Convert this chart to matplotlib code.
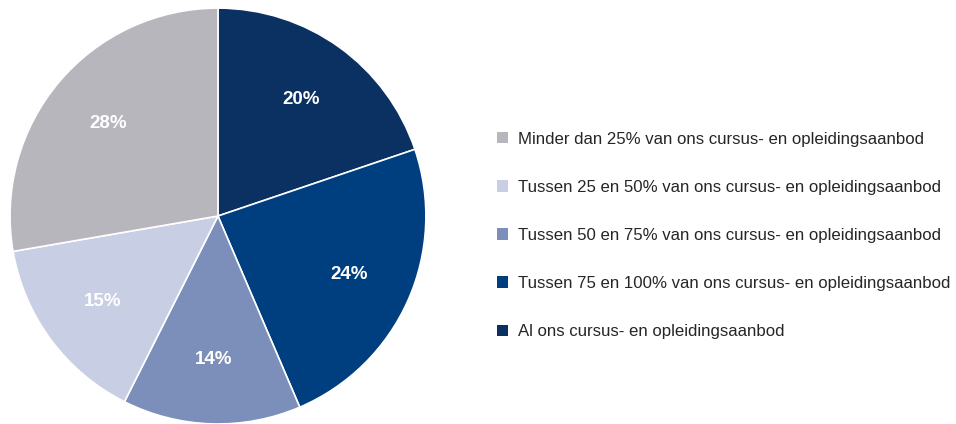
import matplotlib.pyplot as plt
from matplotlib.patches import Patch

plt.rcParams['font.family'] = ['Liberation Sans', 'DejaVu Sans']

# legend order (top to bottom)
categories = [
    "Minder dan 25% van ons cursus- en opleidingsaanbod",
    "Tussen 25 en 50% van ons cursus- en opleidingsaanbod",
    "Tussen 50 en 75% van ons cursus- en opleidingsaanbod",
    "Tussen 75 en 100% van ons cursus- en opleidingsaanbod",
    "Al ons cursus- en opleidingsaanbod",
]
values = [28, 15, 14, 24, 20]
colors = ["#b7b6bc", "#c8cee4", "#7b8fba", "#003f7f", "#0a3161"]

fig = plt.figure(figsize=(9.56, 4.24), dpi=100)
ax = fig.add_axes([0.0105, 0.0, 0.435, 0.981])

# pie runs clockwise from the top starting with the last category
pie_vals = values[::-1]
pie_cols = colors[::-1]
wedges, texts, autotexts = ax.pie(
    pie_vals, colors=pie_cols, startangle=90, counterclock=False,
    autopct=lambda p: "%d%%" % round(p * sum(values) / 100),
    pctdistance=0.69,
    wedgeprops=dict(edgecolor="white", linewidth=1.2),
    textprops=dict(color="white", fontsize=13.5, fontweight="bold"),
)
ax.set_xlim(-1.0, 1.0)
ax.set_ylim(-1.0, 1.0)
ax.set_aspect("equal")

handles = [Patch(facecolor=c, edgecolor="none") for c in colors]
fig.legend(handles, categories, loc="upper left", bbox_to_anchor=(0.504, 0.725),
           frameon=False, fontsize=12.1, labelspacing=1.97,
           handlelength=0.66, handleheight=0.66, handletextpad=0.58,
           labelcolor="#262626")

fig.savefig("out.png", dpi=100)
